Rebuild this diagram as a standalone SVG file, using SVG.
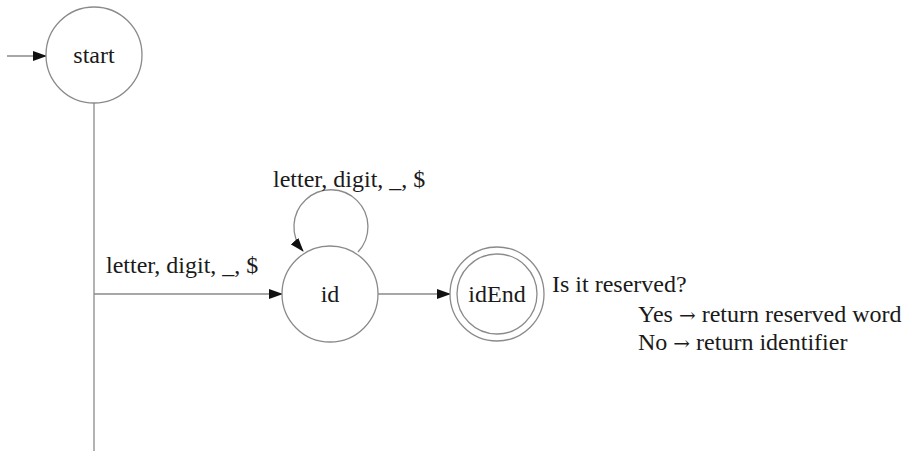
<svg xmlns="http://www.w3.org/2000/svg" width="916" height="451" viewBox="0 0 916 451">
<defs>
<marker id="arr" markerWidth="14" markerHeight="10" refX="13" refY="5" orient="auto" markerUnits="userSpaceOnUse">
<path d="M0,0 L14,5 L0,10 Z" fill="#111"/>
</marker>
<style>
.n{fill:#fff;stroke:#8a8a8a;stroke-width:1.3}
.e{fill:none;stroke:#8a8a8a;stroke-width:1.3}
text{font-family:"Liberation Serif","Times New Roman",serif;font-size:24px;fill:#1a1a1a}
.ar{font-family:"DejaVu Serif",serif;font-size:20px}
</style>
</defs>
<rect width="916" height="451" fill="#fff"/>
<g id="connectors">
<line class="e" x1="7" y1="56" x2="46" y2="56" marker-end="url(#arr)"/>
<line class="e" x1="94" y1="103" x2="94" y2="451"/>
<line class="e" x1="94" y1="294" x2="282" y2="294" marker-end="url(#arr)"/>
<path class="e" d="M358,252 A37,37 0 1 0 303,251" marker-end="url(#arr)"/>
<line class="e" x1="378" y1="294" x2="450" y2="294" marker-end="url(#arr)"/>
<text x="273" y="187">letter, digit, _, $</text>
<text x="106" y="273">letter, digit, _, $</text>
</g>
<g id="start">
<circle class="n" cx="94" cy="55" r="48"/>
<text x="94" y="63" text-anchor="middle">start</text>
</g>
<g id="id">
<circle class="n" cx="330" cy="294" r="48"/>
<text x="330" y="302" text-anchor="middle">id</text>
</g>
<g id="idEnd">
<circle class="n" cx="497" cy="294" r="47"/>
<circle class="n" cx="497" cy="294" r="40"/>
<text x="497" y="302" text-anchor="middle">idEnd</text>
</g>
<g id="note">
<text x="552" y="292">Is it reserved?</text>
<text x="638" y="322">Yes <tspan class="ar">→</tspan> return reserved word</text>
<text x="638" y="350">No <tspan class="ar">→</tspan> return identifier</text>
</g>
</svg>
